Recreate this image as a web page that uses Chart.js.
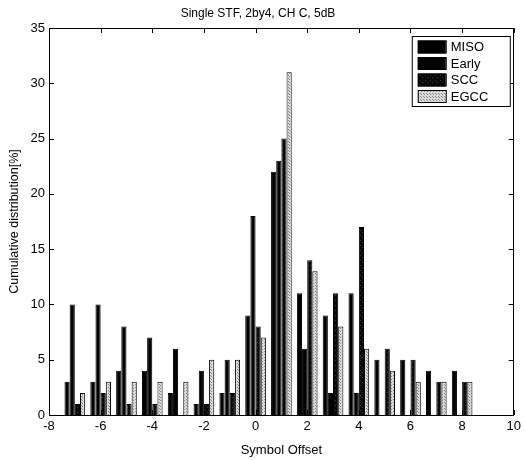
<!DOCTYPE html>
<html>
<head>
<meta charset="utf-8">
<script src="https://cdn.jsdelivr.net/npm/chart.js@4/dist/chart.umd.min.js"></script>
<style>
  html, body { margin: 0; padding: 0; background: #fff; }
  canvas { display: block; }
</style>
</head>
<body>
<canvas id="myChart" width="525" height="461"></canvas>
<script>
// symbol offsets and the four series (percent)
var offsets = [-7, -6, -5, -4, -3, -2, -1, 0, 1, 2, 3, 4, 5, 6, 7, 8];
var miso  = [3, 3, 4, 4, 2, 1, 2, 9, 22, 11, 9, 11, 5, 5, 4, 4];
var early = [10, 10, 8, 7, 6, 4, 5, 18, 23, 6, 2, 2, 0, 0, 0, 0];
var scc   = [1, 2, 1, 1, 0, 1, 2, 8, 25, 14, 11, 17, 6, 5, 3, 3];
var egcc  = [2, 3, 3, 3, 3, 5, 5, 7, 31, 13, 8, 6, 4, 3, 3, 3];
var seriesNames = ['MISO', 'Early', 'SCC', 'EGCC'];

var FONT = '"Liberation Sans", Arial, Helvetica, sans-serif';

function dotPattern(base, dot, size) {
    var c = document.createElement('canvas');
    c.width = size; c.height = size;
    var g = c.getContext('2d');
    g.fillStyle = base;
    g.fillRect(0, 0, size, size);
    g.fillStyle = dot;
    g.fillRect(0, 0, 1, 1);
    g.fillRect(Math.floor(size / 2), Math.floor(size / 2), 1, 1);
    return g.createPattern(c, 'repeat');
}

var ctx = document.getElementById('myChart').getContext('2d');
var fills = ['#000000', '#030303', dotPattern('#080808', '#3a3a3a', 5), dotPattern('#dadada', '#8a8a8a', 3)];

function toPoints(arr) {
    return offsets.map(function (x, i) { return { x: x, y: arr[i] }; });
}

// box, inward ticks and boxed legend like the original figure
var framePlugin = {
    id: 'frame',
    afterDatasetsDraw: function (chart) {
        var c = chart.ctx, a = chart.chartArea;
        var xs = chart.scales.x, ys = chart.scales.y;
        c.save();
        c.strokeStyle = '#000';
        c.lineWidth = 1;
        c.strokeRect(Math.round(a.left) + 0.5, Math.round(a.top) + 0.5,
            Math.round(a.right - a.left) - 1, Math.round(a.bottom - a.top));
        c.beginPath();
        xs.ticks.forEach(function (t) {
            var px = Math.round(xs.getPixelForValue(t.value)) + 0.5;
            c.moveTo(px, a.bottom); c.lineTo(px, a.bottom - 5);
            c.moveTo(px, a.top); c.lineTo(px, a.top + 5);
        });
        ys.ticks.forEach(function (t) {
            var py = Math.round(ys.getPixelForValue(t.value)) + 0.5;
            c.moveTo(a.left, py); c.lineTo(a.left + 5, py);
            c.moveTo(a.right, py); c.lineTo(a.right - 5, py);
        });
        c.stroke();

        // legend
        var lx = a.right - 102, ly = a.top + 8, lw = 98, lh = 70;
        c.fillStyle = '#fff';
        c.fillRect(lx, ly, lw, lh);
        c.strokeRect(lx + 0.5, ly + 0.5, lw, lh);
        c.font = '13px ' + FONT;
        c.textBaseline = 'middle';
        chart.data.datasets.forEach(function (ds, i) {
            var ry = ly + 10.5 + i * 16.5;
            c.fillStyle = ds.backgroundColor;
            c.fillRect(lx + 6, ry - 6, 28, 13);
            c.strokeRect(lx + 6.5, ry - 5.5, 28, 12);
            c.fillStyle = '#000';
            c.fillText(ds.label, lx + 39, ry + 1);
        });
        c.restore();
    }
};

var myChart = new Chart(ctx, {
    type: 'bar',
    data: {
        datasets: [miso, early, scc, egcc].map(function (arr, i) {
            return {
                label: seriesNames[i],
                data: toPoints(arr),
                backgroundColor: fills[i],
                borderColor: '#000',
                borderWidth: 1,
                categoryPercentage: 0.8,
                barPercentage: 1.0
            };
        })
    },
    options: {
        responsive: false,
        animation: false,
        layout: { padding: { left: 0, right: 9, top: 0, bottom: 0 } },
        plugins: {
            legend: { display: false },
            tooltip: { enabled: false },
            title: {
                display: true,
                text: 'Single STF, 2by4, CH C, 5dB',
                color: '#000',
                font: { family: FONT, size: 12, weight: 'normal' },
                padding: { top: 6, bottom: 7.6 }
            }
        },
        scales: {
            x: {
                type: 'linear',
                min: -8,
                max: 10,
                offset: false,
                grid: { display: false, drawTicks: false, offset: false },
                border: { display: false },
                ticks: {
                    stepSize: 2,
                    color: '#000',
                    padding: 4,
                    maxRotation: 0,
                    font: { family: FONT, size: 13 }
                },
                title: {
                    display: true,
                    text: 'Symbol Offset',
                    color: '#000',
                    font: { family: FONT, size: 13 },
                    padding: { top: 0, bottom: 3 }
                },
                afterFit: function (scale) { scale.height = 46; }
            },
            y: {
                min: 0,
                max: 35,
                grid: { display: false, drawTicks: false },
                border: { display: false },
                ticks: {
                    stepSize: 5,
                    color: '#000',
                    padding: 4,
                    font: { family: FONT, size: 13 }
                },
                title: {
                    display: true,
                    text: 'Cumulative distribution[%]',
                    color: '#000',
                    font: { family: FONT, size: 12.5 },
                    padding: { top: 7, bottom: 0 }
                },
                afterFit: function (scale) { scale.width = 49; }
            }
        }
    },
    plugins: [framePlugin]
});
</script>
</body>
</html>
